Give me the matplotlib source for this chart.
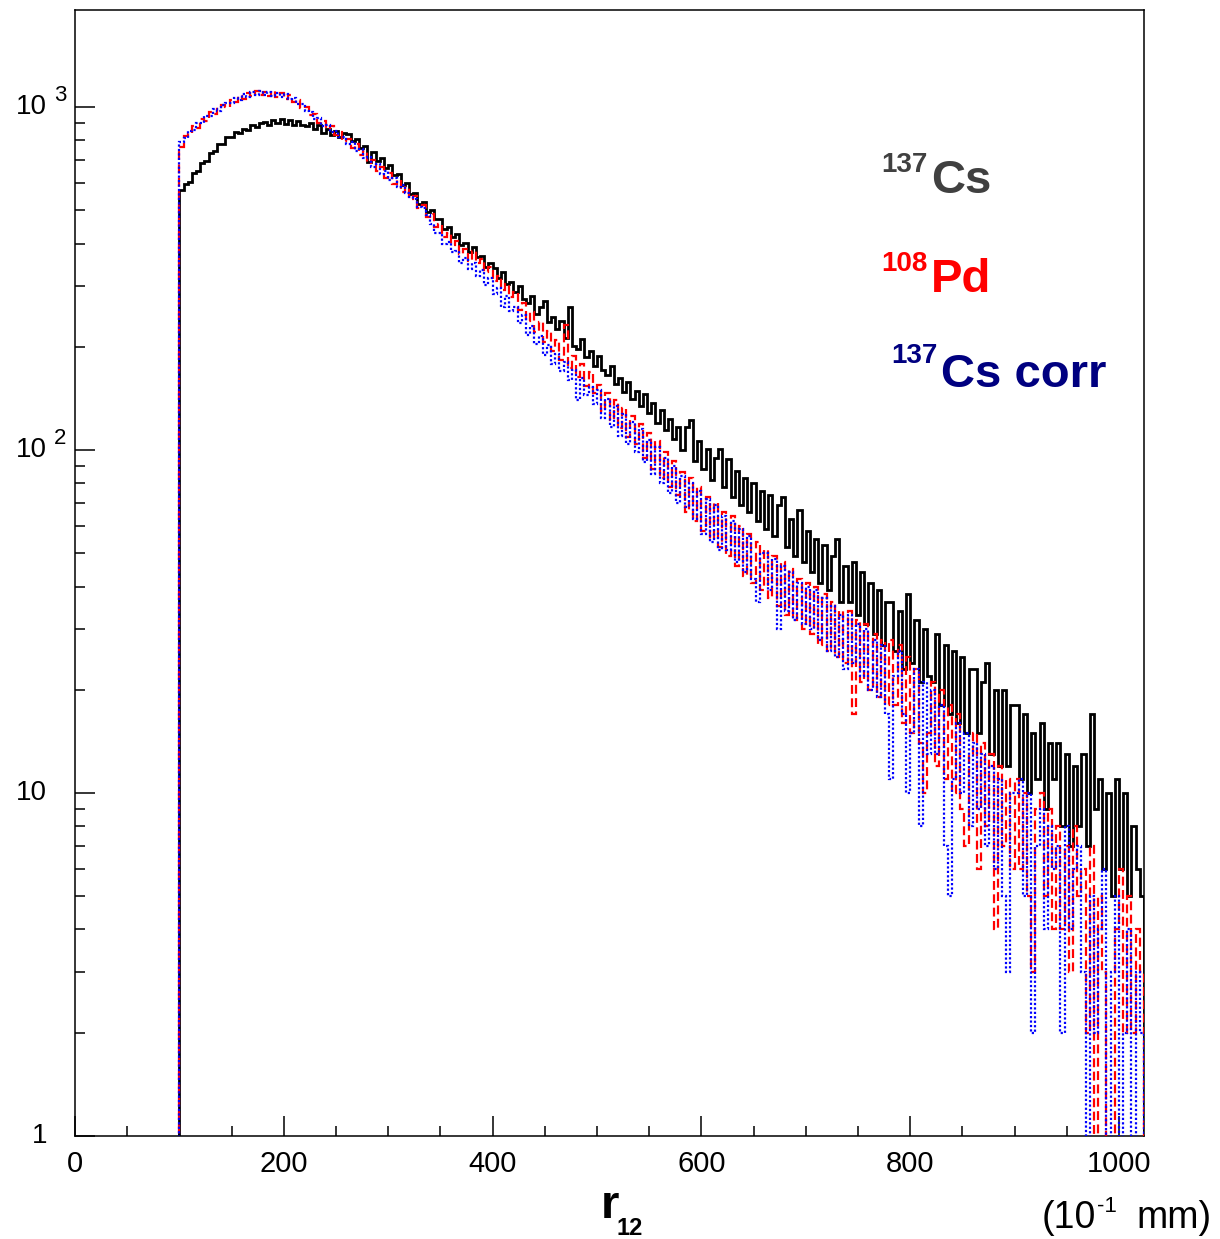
import numpy as np
import matplotlib
matplotlib.use('Agg')
import matplotlib.pyplot as plt
from matplotlib.ticker import MultipleLocator, LogLocator, NullFormatter
import matplotlib.transforms as mtransforms

FONT = ['Liberation Sans', 'DejaVu Sans']
plt.rcParams['font.family'] = FONT

# ---------------- data (counts per bin, r12 in 10^-1 mm) ----------------
bin_start = 100
bin_width = 4
bin_stop = 1024

cs137 = [
    572, 598, 606, 641, 650, 688, 697, 735, 742, 778,
    781, 815, 818, 846, 838, 862, 857, 884, 872, 897,
    903, 889, 917, 898, 921, 893, 914, 889, 911, 884,
    880, 901, 865, 884, 842, 861, 828, 851, 817, 838,
    832, 797, 806, 760, 771, 690, 738, 695, 708, 664,
    676, 632, 638, 592, 601, 558, 563, 522, 530, 494,
    500, 470, 472, 440, 446, 418, 425, 396, 402, 377,
    392, 366, 369, 341, 352, 339, 318, 331, 305, 309,
    288, 301, 275, 269, 281, 250, 262, 272, 236, 244,
    226, 238, 212, 262, 201, 197, 210, 187, 195, 176,
    188, 171, 165, 176, 156, 162, 148, 158, 141, 149,
    134, 146, 128, 137, 120, 131, 114, 123, 108, 117,
    100, 117, 122, 93, 106, 88, 101, 82, 95, 101,
    78, 94, 73, 87, 69, 83, 66, 80, 62, 76,
    59, 74, 56, 69, 73, 52, 63, 49, 67, 47,
    58, 44, 55, 41, 53, 39, 49, 55, 36, 46,
    36, 47, 33, 44, 31, 41, 29, 39, 27, 36,
    36, 26, 34, 23, 38, 24, 32, 21, 30, 22,
    21, 29, 18, 27, 17, 26, 16, 25, 15, 23,
    23, 15, 21, 24, 13, 20, 12, 20, 12, 18,
    18, 11, 17, 10, 15, 11, 16, 9, 14, 11,
    14, 8, 13, 7, 12, 8, 13, 7, 17, 9,
    11, 6, 10, 5, 11, 6, 10, 5, 8, 6,
    5,
]

pd108 = [
    765, 821, 832, 878, 871, 925, 912, 968, 951, 1002,
    1015, 1003, 1048, 1031, 1079, 1058, 1101, 1076, 1112, 1083,
    1108, 1079, 1115, 1070, 1096, 1058, 1082, 1036, 1047, 992,
    1002, 948, 951, 898, 912, 862, 878, 829, 843, 795,
    808, 762, 779, 726, 745, 688, 700, 652, 669, 621,
    640, 598, 612, 566, 583, 540, 552, 508, 519, 478,
    486, 446, 456, 419, 429, 395, 406, 372, 385, 355,
    380, 350, 361, 330, 342, 311, 322, 292, 304, 279,
    288, 256, 268, 238, 252, 221, 236, 207, 222, 195,
    209, 183, 232, 173, 188, 163, 178, 154, 169, 147,
    155, 130, 147, 122, 140, 116, 133, 109, 126, 104,
    119, 95, 112, 88, 106, 83, 99, 78, 93, 74,
    86, 66, 83, 62, 78, 58, 73, 55, 70, 52,
    66, 49, 64, 46, 60, 43, 57, 41, 54, 39,
    51, 37, 49, 35, 47, 33, 45, 32, 42, 30,
    41, 29, 40, 27, 38, 26, 36, 25, 34, 24,
    34, 17, 32, 21, 31, 20, 29, 19, 28, 18,
    28, 18, 27, 16, 25, 15, 23, 14, 10, 15,
    21, 12, 20, 11, 18, 10, 17, 9, 7, 13,
    15, 6, 14, 8, 13, 4, 12, 7, 11, 6,
    11, 6, 10, 5, 3, 9, 10, 5, 9, 4,
    8, 4, 7, 3, 8, 5, 6, 2, 7, 0,
    5, 3, 0, 0, 4, 6, 2, 5, 2, 4,
    3,
]

cs137_corr = [
    790, 812, 851, 856, 901, 897, 944, 940, 985, 973,
    1012, 1030, 1025, 1062, 1048, 1090, 1070, 1108, 1085, 1110,
    1082, 1103, 1077, 1099, 1066, 1088, 1052, 1061, 1018, 1020,
    975, 970, 925, 926, 882, 889, 848, 852, 815, 820,
    781, 791, 745, 756, 709, 717, 669, 681, 638, 649,
    611, 620, 583, 592, 561, 547, 541, 512, 509, 483,
    455, 428, 430, 398, 404, 378, 381, 352, 362, 338,
    350, 322, 335, 303, 318, 285, 297, 262, 282, 254,
    262, 235, 248, 216, 230, 204, 215, 189, 203, 178,
    190, 170, 181, 160, 171, 140, 162, 145, 153, 136,
    150, 124, 141, 117, 134, 110, 127, 104, 121, 99,
    115, 92, 107, 85, 102, 80, 95, 75, 90, 70,
    84, 68, 80, 63, 76, 57, 72, 54, 69, 51,
    64, 51, 62, 47, 59, 44, 56, 42, 36, 50,
    50, 39, 48, 30, 46, 34, 44, 32, 41, 31,
    40, 30, 39, 28, 37, 26, 35, 25, 33, 23,
    33, 24, 31, 22, 30, 20, 28, 19, 27, 17,
    11, 22, 26, 17, 10, 15, 23, 8, 21, 13,
    20, 13, 18, 7, 5, 11, 16, 10, 15, 8,
    14, 9, 13, 7, 12, 6, 11, 5, 3, 10,
    10, 11, 5, 10, 2, 7, 9, 4, 8, 6,
    7, 2, 8, 4, 6, 7, 3, 0, 5, 2,
    4, 6, 0, 3, 5, 0, 2, 4, 0, 3,
    2,
]

x_ticks = [0, 200, 400, 600, 800, 1000]
legend_main = ['Cs', 'Pd', 'Cs corr']
legend_sup = ['137', '108', '137']
# -------------------------------------------------------------------------

edges = np.arange(bin_start, bin_stop + 1, bin_width)
for arr in (cs137, pd108, cs137_corr):
    assert len(arr) == len(edges) - 1, len(arr)

W, H = 1220, 1239
fig = plt.figure(figsize=(W / 100, H / 100), dpi=100)
ax = fig.add_axes([75 / W, 1 - 1136 / H, (1144 - 75) / W, (1136 - 10) / H])

def fx(px):
    return px / W

def fy(py):
    return 1 - py / H

ax.set_yscale('log', nonpositive='clip')
ax.stairs(cs137, edges, baseline=0, color='black', lw=2.0, zorder=2)
ax.stairs(pd108, edges, baseline=0, color='#ff0000', lw=1.6,
          linestyle=(0, (4, 2)), zorder=3)
ax.stairs(cs137_corr, edges, baseline=0, color='#0000ff', lw=1.6,
          linestyle=(0, (1, 1)), zorder=4)

ax.set_xlim(0, 1024)
ax.set_ylim(1, 1918)

for sp in ax.spines.values():
    sp.set_linewidth(1.1)

ax.xaxis.set_minor_locator(MultipleLocator(50))
ax.set_xticks(x_ticks)
ax.set_xticklabels([str(v) for v in x_ticks])
ax.tick_params(axis='x', which='major', direction='in', length=14.4, width=1.1,
               top=False, labelsize=21, pad=10)
ax.tick_params(axis='x', which='minor', direction='in', length=7.2, width=1.1,
               top=False)

ax.yaxis.set_major_locator(LogLocator(base=10, numticks=10))
ax.yaxis.set_minor_locator(LogLocator(base=10, subs=np.arange(2, 10), numticks=20))
ax.yaxis.set_major_formatter(NullFormatter())
ax.yaxis.set_minor_formatter(NullFormatter())
ax.tick_params(axis='y', which='major', direction='in', length=14.4, width=1.1,
               right=False)
ax.tick_params(axis='y', which='minor', direction='in', length=7.2, width=1.1,
               right=False)

# y tick labels in ROOT style
trans = mtransforms.blended_transform_factory(fig.transFigure, ax.transData)
trans_sup = mtransforms.offset_copy(trans, fig=fig, y=12, units='dots')
for val, base, sup in [(1, '1', None), (10, '10', None), (100, '10', '2'), (1000, '10', '3')]:
    ax.text(fx(47), val, base, transform=trans, ha='right', va='center', fontsize=20)
    if sup:
        ax.text(fx(54), val, sup, transform=trans_sup, ha='left', va='center', fontsize=16)

# x axis title
fig.text(fx(601), fy(1218), 'r', fontsize=34, fontweight='bold', ha='left', va='baseline')
fig.text(fx(616), fy(1235), '12', fontsize=17, fontweight='bold', ha='left', va='baseline')
fig.text(fx(1096), fy(1228), '(10', fontsize=27, ha='right', va='baseline')
fig.text(fx(1097), fy(1212), '-1', fontsize=16, ha='left', va='baseline')
fig.text(fx(1212), fy(1228), 'mm)', fontsize=27, ha='right', va='baseline')

# legend labels
leg_colors = ['#404040', '#ff0000', '#000080']
leg_pos = [(928, 172, 931, 193), (928, 271, 931, 292), (938, 363, 941, 387)]
for sup, main, col, (sx, sy, mx, my) in zip(legend_sup, legend_main, leg_colors, leg_pos):
    fig.text(fx(sx), fy(sy), sup, fontsize=20, fontweight='bold', color=col,
             ha='right', va='baseline')
    fig.text(fx(mx), fy(my), main, fontsize=34, fontweight='bold', color=col,
             ha='left', va='baseline')

fig.savefig('out.png', dpi=100)
